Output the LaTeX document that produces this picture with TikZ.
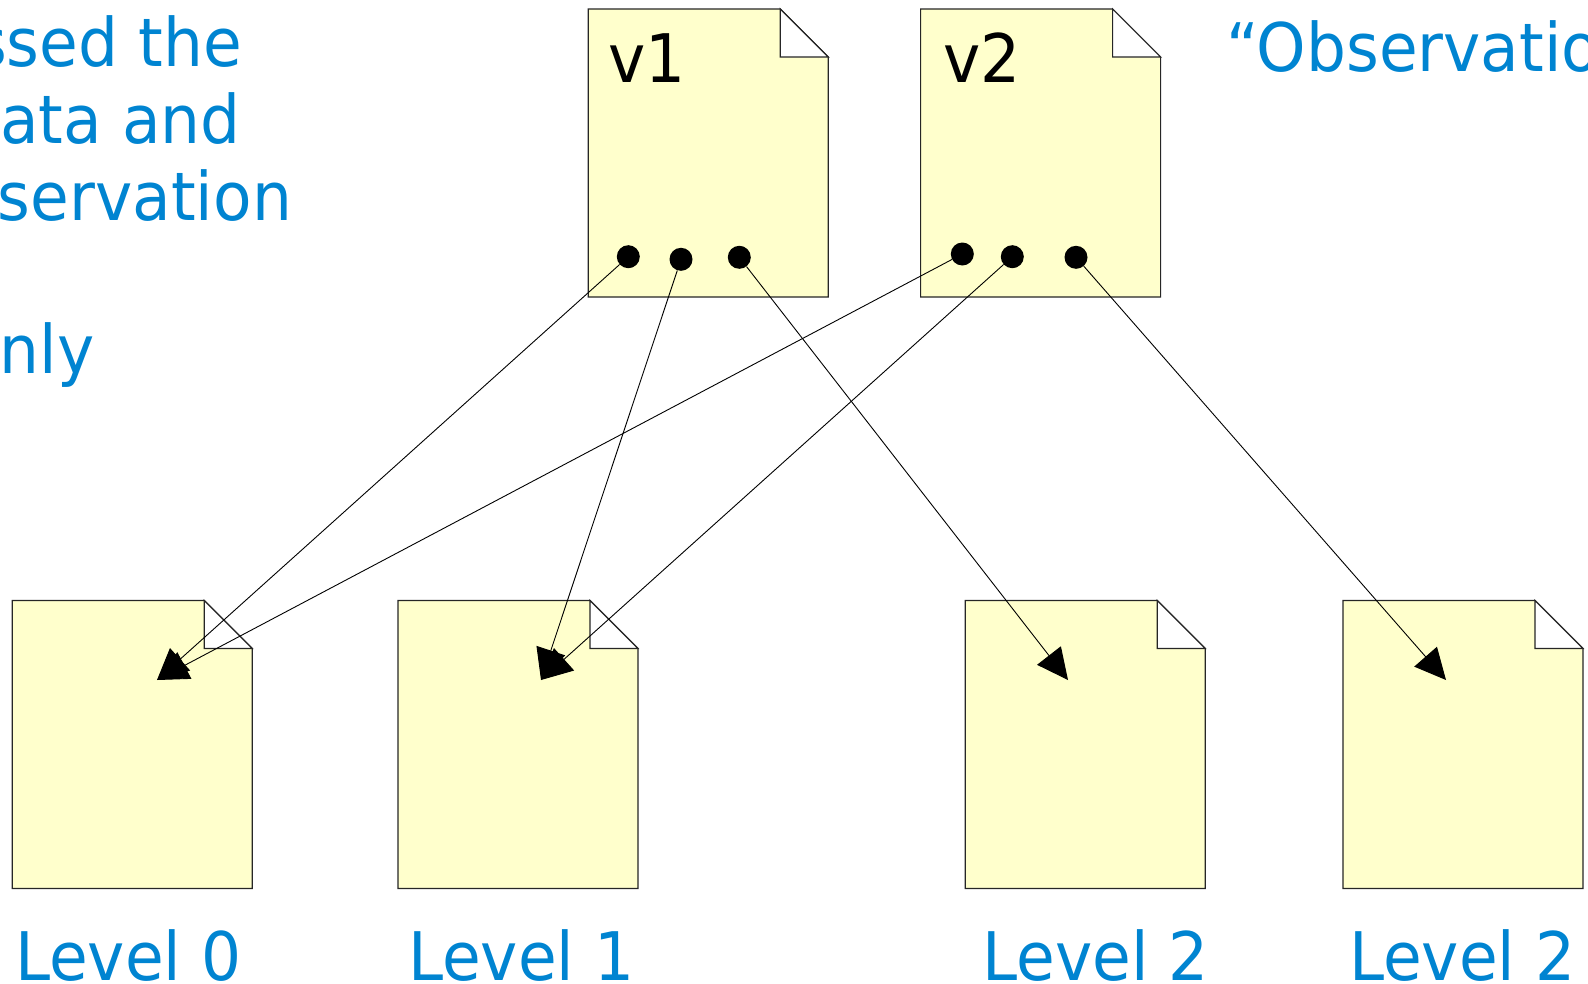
\documentclass[tikz,border=0pt]{standalone}
\usepackage{fontspec}
\setmainfont{DejaVu Sans}[FakeStretch=0.94]
\usetikzlibrary{arrows.meta}
\definecolor{noteblue}{HTML}{0084D1}
\definecolor{pagefill}{HTML}{FFFFCC}
\begin{document}
\begin{tikzpicture}[x=1pt,y=-1pt,
  page/.style={minimum width=240pt,minimum height=288pt,inner sep=0pt,outer sep=0pt},
  pageline/.style={draw=black!85,line width=1.2pt},
  slot/.style={circle,fill=black,minimum size=23pt,inner sep=0pt},
  ref/.style={draw=black,line width=0.9pt,-{Triangle[length=31pt,width=30pt]}},
  note/.style={text=noteblue,font=\fontsize{67}{77}\selectfont,inner sep=0pt},
  vlabel/.style={text=black,font=\fontsize{67}{77}\selectfont,inner sep=0pt}]
\useasboundingbox (0,0) rectangle (1588,983);

% page frames
\node[page] (v1) at (708.3,153) {};
\node[page] (v2) at (1040.6,153) {};
\node[page] (d0) at (132.2,744.5) {};
\node[page] (d1) at (518,744.5) {};
\node[page] (d2) at (1085.2,744.5) {};
\node[page] (d3) at (1463,744.5) {};

\foreach \n in {v1,v2,d0,d1,d2,d3}{
  \filldraw[pageline,fill=pagefill] (\n.north west) -- ([xshift=-48pt]\n.north east)
    -- ([yshift=-48pt]\n.north east) -- (\n.south east) -- (\n.south west) -- cycle;
  \filldraw[pageline,fill=white] ([xshift=-48pt]\n.north east)
    -- ([xshift=-48pt,yshift=-48pt]\n.north east) -- ([yshift=-48pt]\n.north east) -- cycle;
}

% version labels
\node[vlabel,anchor=base west] (v1lab) at (608,82.7) {v1};
\node[vlabel,anchor=base west] (v2lab) at (943,82.7) {v2};

% pointer slots
\node[slot] (p1) at (628.3,256.7) {};
\node[slot] (p2) at (681,259.3) {};
\node[slot] (p3) at (739.3,257.3) {};
\node[slot] (q1) at (962.3,254) {};
\node[slot] (q2) at (1012.3,256.7) {};
\node[slot] (q3) at (1076,257.3) {};

% arrow targets
\coordinate (t0) at (157,680);
\coordinate (t1) at (541,680);
\coordinate (t2) at (1068,680);
\coordinate (t3) at (1446,680);

\draw[ref] (p1) -- (t0);
\draw[ref] (q1) -- (t0);
\draw[ref] (p2) -- (t1);
\draw[ref] (q2) -- (t1);
\draw[ref] (p3) -- (t2);
\draw[ref] (q3) -- (t3);

% level captions
\node[note,anchor=base west] (l0) at (15,980) {Level 0};
\node[note,anchor=base west] (l1) at (408,980) {Level 1};
\node[note,anchor=base west] (l2) at (982.5,980) {Level 2};
\node[note,anchor=base west] (l3) at (1349,980) {Level 2};

% side notes
\node[note,anchor=base east] (n1) at (242,66.7) {ssed the};
\node[note,anchor=base east] (n2) at (240.8,143.3) {ata and};
\node[note,anchor=base east] (n3) at (292.1,220) {servation};
\node[note,anchor=base east] (n4) at (94.5,373.3) {nly};
\node[note,anchor=base west] (n5) at (1226,71.7) {“Observatio};
\end{tikzpicture}
\end{document}
